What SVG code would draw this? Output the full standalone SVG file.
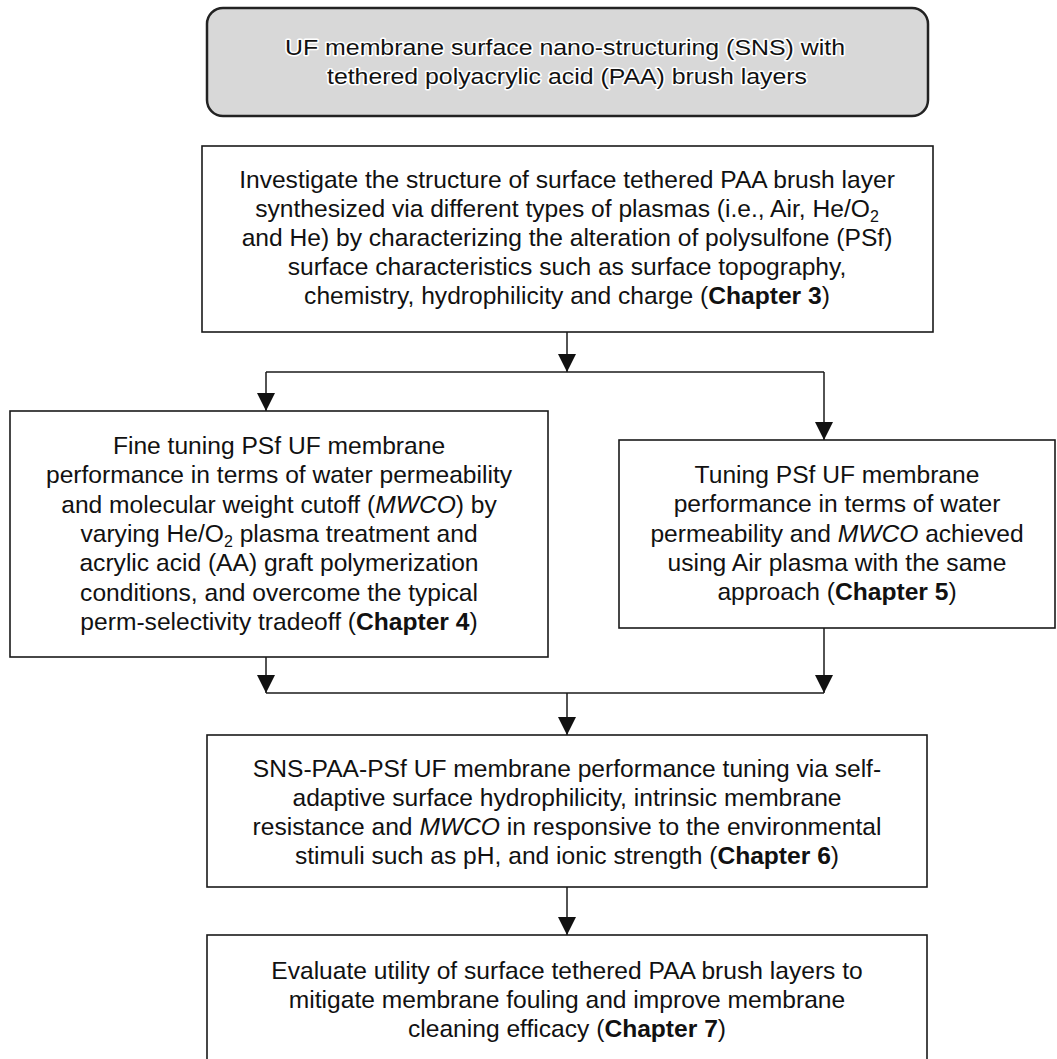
<svg xmlns="http://www.w3.org/2000/svg" width="1057" height="1059" viewBox="0 0 1057 1059">
<style>
.box{fill:#fff;stroke:#1a1a1a;stroke-width:1.6}
.t{font-family:"Liberation Sans",Arial,sans-serif;font-size:24.6px;fill:#111;text-anchor:middle}
.hd{font-family:"Liberation Sans",Arial,sans-serif;font-size:22px;fill:#111;text-anchor:middle;stroke:#fff;stroke-width:3;paint-order:stroke;stroke-linejoin:round}
.b{font-weight:bold}
.i{font-style:italic}
.c{fill:none;stroke:#1a1a1a;stroke-width:1.5}
</style>
<defs>
<marker id="ah" markerUnits="userSpaceOnUse" markerWidth="18" markerHeight="18" refX="18" refY="9" orient="auto" viewBox="0 0 18 18">
<path d="M0,0 L18,9 L0,18 Z" fill="#111"/>
</marker>
</defs>
<g id="title">
<rect x="207" y="8" width="721" height="108" rx="16" ry="16" fill="#d8d8d8" stroke="#222" stroke-width="2.5"/>
<text class="hd" x="565" y="55" textLength="560" lengthAdjust="spacingAndGlyphs">UF membrane surface nano-structuring (SNS) with</text>
<text class="hd" x="567" y="84" textLength="480" lengthAdjust="spacingAndGlyphs">tethered polyacrylic acid (PAA) brush layers</text>
</g>
<g id="ch3">
<rect class="box" x="202" y="146" width="731" height="186"/>
<text class="t" x="567" y="188">Investigate the structure of surface tethered PAA brush layer</text>
<text class="t" x="567" y="217">synthesized via different types of plasmas (i.e., Air, He/O<tspan font-size="16" dy="5">2</tspan></text>
<text class="t" x="567" y="246">and He) by characterizing the alteration of polysulfone (PSf)</text>
<text class="t" x="567" y="275">surface characteristics such as surface topography,</text>
<text class="t" x="567" y="304">chemistry, hydrophilicity and charge (<tspan class="b">Chapter 3</tspan>)</text>
</g>
<g id="ch4">
<rect class="box" x="10" y="411" width="538" height="246"/>
<text class="t" x="279" y="454">Fine tuning PSf UF membrane</text>
<text class="t" x="279" y="483.3">performance in terms of water permeability</text>
<text class="t" x="279" y="512.6">and molecular weight cutoff (<tspan class="i">MWCO</tspan>) by</text>
<text class="t" x="279" y="541.9">varying He/O<tspan font-size="16" dy="5">2</tspan><tspan dy="-5"> plasma treatment and</tspan></text>
<text class="t" x="279" y="571.2">acrylic acid (AA) graft polymerization</text>
<text class="t" x="279" y="600.5">conditions, and overcome the typical</text>
<text class="t" x="279" y="629.8">perm-selectivity tradeoff (<tspan class="b">Chapter 4</tspan>)</text>
</g>
<g id="ch5">
<rect class="box" x="619" y="440" width="436" height="188"/>
<text class="t" x="837" y="483">Tuning PSf UF membrane</text>
<text class="t" x="837" y="512.3">performance in terms of water</text>
<text class="t" x="837" y="541.6">permeability and <tspan class="i">MWCO</tspan> achieved</text>
<text class="t" x="837" y="570.9">using Air plasma with the same</text>
<text class="t" x="837" y="600.2">approach (<tspan class="b">Chapter 5</tspan>)</text>
</g>
<g id="ch6">
<rect class="box" x="207" y="735" width="720" height="152"/>
<text class="t" x="567" y="777">SNS-PAA-PSf UF membrane performance tuning via self-</text>
<text class="t" x="567" y="806">adaptive surface hydrophilicity, intrinsic membrane</text>
<text class="t" x="567" y="835">resistance and <tspan class="i">MWCO</tspan> in responsive to the environmental</text>
<text class="t" x="567" y="864">stimuli such as pH, and ionic strength (<tspan class="b">Chapter 6</tspan>)</text>
</g>
<g id="ch7">
<rect class="box" x="207" y="935" width="720" height="140"/>
<text class="t" x="567" y="979">Evaluate utility of surface tethered PAA brush layers to</text>
<text class="t" x="567" y="1008">mitigate membrane fouling and improve membrane</text>
<text class="t" x="567" y="1037">cleaning efficacy (<tspan class="b">Chapter 7</tspan>)</text>
</g>
<g id="connectors">
<path class="c" d="M567,332 V372" marker-end="url(#ah)"/>
<path class="c" d="M266,372 H824"/>
<path class="c" d="M266,372 V411" marker-end="url(#ah)"/>
<path class="c" d="M824,372 V440" marker-end="url(#ah)"/>
<path class="c" d="M266,657 V693" marker-end="url(#ah)"/>
<path class="c" d="M824,628 V693" marker-end="url(#ah)"/>
<path class="c" d="M266,693 H824"/>
<path class="c" d="M567,693 V735" marker-end="url(#ah)"/>
<path class="c" d="M567,887 V935" marker-end="url(#ah)"/>
</g>
</svg>
